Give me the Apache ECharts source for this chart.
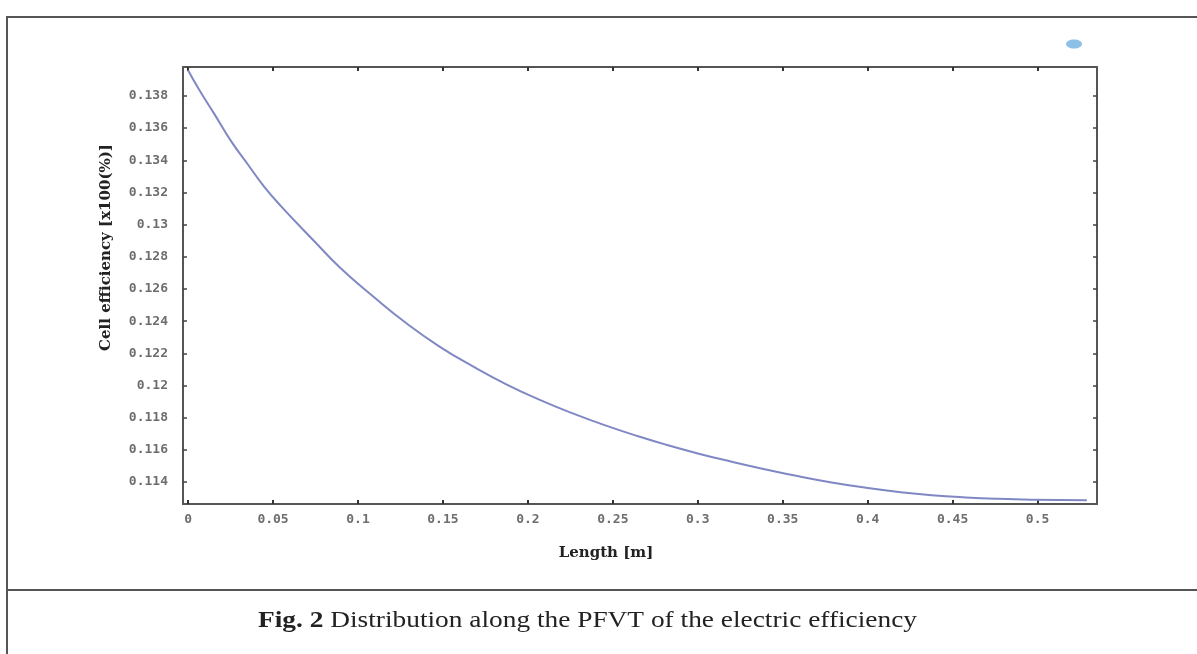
<!DOCTYPE html>
<html>
<head>
<meta charset="utf-8">
<script src="https://cdn.jsdelivr.net/npm/echarts@6/dist/echarts.min.js"></script>
<style>
html,body{margin:0;padding:0;background:#fff;}
#chart{width:1197px;height:654px;}
</style>
</head>
<body>
<div id="chart"></div>
<script>
// Length along the collector [m]
const lengthM = [0, 0.006, 0.0155, 0.0253, 0.0352, 0.0445, 0.0545, 0.0743, 0.0895, 0.1088, 0.1287, 0.148, 0.1674, 0.1873, 0.2067, 0.226, 0.246, 0.2654, 0.2812, 0.3006, 0.32, 0.34, 0.3594, 0.3788, 0.3989, 0.4183, 0.4377, 0.4577, 0.4771, 0.4966, 0.529];
// Cell efficiency [x100(%)]
const efficiency = [0.1396, 0.13848, 0.13687, 0.13519, 0.13374, 0.13240, 0.13117, 0.12897, 0.12732, 0.12555, 0.12385, 0.12242, 0.12120, 0.12007, 0.11912, 0.11828, 0.11750, 0.11683, 0.11632, 0.11576, 0.11526, 0.11478, 0.11435, 0.11397, 0.11364, 0.11338, 0.11318, 0.11304, 0.11295, 0.11290, 0.11287];
// Tick labels
const xTicks = [0, 0.05, 0.1, 0.15, 0.2, 0.25, 0.3, 0.35, 0.4, 0.45, 0.5];
const yTicks = [0.114, 0.116, 0.118, 0.12, 0.122, 0.124, 0.126, 0.128, 0.13, 0.132, 0.134, 0.136, 0.138];

const X_MIN = -0.003, X_MAX = 0.535;
const Y_MIN = 0.11263, Y_MAX = 0.1398;

const chart = echarts.init(document.getElementById('chart'), null, {renderer: 'canvas'});
const axisCol = '#555';
const labelFont = {color: '#6e6e6e', fontFamily: 'DejaVu Sans Mono', fontSize: 13, fontWeight: 'bold'};
const fmt = v => String(Math.round(v * 1000) / 1000);

const data = lengthM.map((x, i) => [x, efficiency[i]]);

chart.setOption({
  animation: false,
  backgroundColor: '#fff',
  grid: {left: 183, right: 100, top: 67, bottom: 150, containLabel: false},
  xAxis: [{
    type: 'value', position: 'bottom', min: X_MIN, max: X_MAX,
    name: 'Length [m]', nameLocation: 'middle', nameGap: 42,
    nameTextStyle: {fontFamily: 'DejaVu Serif', fontWeight: 'bold', fontSize: 15, color: '#222', padding: [0, 68, 0, 0]},
    axisLine: {show: true, onZero: false, lineStyle: {color: axisCol, width: 2}},
    axisTick: {show: true, inside: true, length: 4, customValues: xTicks, lineStyle: {color: '#333', width: 2}},
    axisLabel: Object.assign({show: true, margin: 9, customValues: xTicks, formatter: fmt}, labelFont),
    splitLine: {show: false}
  }, {
    type: 'value', position: 'top', min: X_MIN, max: X_MAX,
    axisLine: {show: true, onZero: false, lineStyle: {color: axisCol, width: 2}},
    axisTick: {show: true, inside: true, length: 4, customValues: xTicks, lineStyle: {color: '#333', width: 2}},
    axisLabel: {show: false},
    splitLine: {show: false}
  }],
  yAxis: [{
    type: 'value', position: 'left', min: Y_MIN, max: Y_MAX,
    name: 'Cell efficiency [x100(%)]', nameLocation: 'middle', nameGap: 69, nameRotate: 90,
    nameTextStyle: {fontFamily: 'DejaVu Serif', fontWeight: 'bold', fontSize: 15, color: '#222', padding: [0, 0, 0, 76]},
    axisLine: {show: true, onZero: false, lineStyle: {color: axisCol, width: 2}},
    axisTick: {show: true, inside: true, length: 4, customValues: yTicks, lineStyle: {color: '#444', width: 1.5}},
    axisLabel: Object.assign({show: true, margin: 15, customValues: yTicks, formatter: fmt}, labelFont),
    splitLine: {show: false}
  }, {
    type: 'value', position: 'right', min: Y_MIN, max: Y_MAX,
    axisLine: {show: true, onZero: false, lineStyle: {color: axisCol, width: 2}},
    axisTick: {show: true, inside: true, length: 4, customValues: yTicks, lineStyle: {color: '#444', width: 1.5}},
    axisLabel: {show: false},
    splitLine: {show: false}
  }],
  series: [{
    type: 'line', xAxisIndex: 0, yAxisIndex: 0,
    data: data, showSymbol: false, smooth: 0.5,
    lineStyle: {color: '#8088c4', width: 2}
  }],
  graphic: [
    {type: 'rect', shape: {x: 7, y: 17, width: 1195, height: 660}, style: {fill: 'none', stroke: '#555', lineWidth: 2}, silent: true},
    {type: 'line', shape: {x1: 7, y1: 590, x2: 1197, y2: 590}, style: {stroke: '#555', lineWidth: 2}, silent: true},
    {type: 'ellipse', shape: {cx: 1074, cy: 44, rx: 8, ry: 4.5}, style: {fill: '#6fb0e0', opacity: 0.8}, silent: true},
    {type: 'text', x: 258, y: 609, scaleX: 1.14, style: {
      text: '{b|Fig. 2} Distribution along the PFVT of the electric efficiency',
      rich: {b: {fontFamily: 'Liberation Serif', fontWeight: 'bold', fontSize: 24, fill: '#222'}},
      fontFamily: 'Liberation Serif', fontSize: 24, fill: '#222'
    }, silent: true}
  ]
});
</script>
</body>
</html>
